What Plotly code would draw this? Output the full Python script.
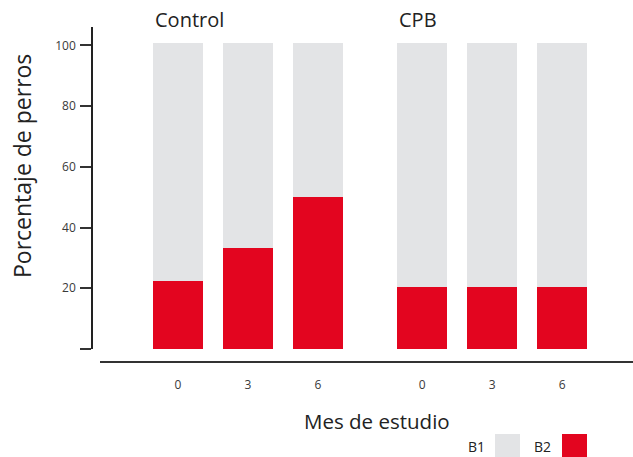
import plotly.graph_objects as go

# ---- data ----
groups = ["Control", "CPB"]
months = ["0", "3", "6"]
b2_control = [22.5, 33.4, 50.1]
b1_control = [78.2, 67.3, 50.6]
b2_cpb = [20.4, 20.4, 20.4]
b1_cpb = [80.3, 80.3, 80.3]
y_ticks = [0, 20, 40, 60, 80, 100]

RED = "#E3051F"
GRAY = "#E3E4E6"
FONT = "Open Sans"

W, H = 633, 457
L, R, T, B = 92, 0, 27, 95
PW, PH = W - L - R, H - T - B


def px_x(p):
    return (p - L) / PW


def px_y(p):
    return (H - B - p) / PH


group_gap = 3.49
b1_all = [b1_control, b1_cpb]
b2_all = [b2_control, b2_cpb]

fig = go.Figure()
xpos, ticktext = [], []
for g, name in enumerate(groups):
    xs = [i + g * group_gap for i in range(len(months))]
    xpos += xs
    ticktext += months
    fig.add_bar(x=xs, y=b2_all[g], marker_color=RED, width=0.714,
                name="B2", showlegend=False, marker_line_width=0, hoverinfo="skip")
    fig.add_bar(x=xs, y=b1_all[g], marker_color=GRAY, width=0.714,
                name="B1", showlegend=False, marker_line_width=0, hoverinfo="skip")
    fig.add_annotation(x=xs[0] - 0.357, y=px_y(20), xref="x", yref="paper",
                       text=name, showarrow=False, xanchor="left", yanchor="middle",
                       font=dict(family=FONT, size=20, color="#222"))

fig.update_layout(
    template="none",
    barmode="stack",
    width=W, height=H,
    margin=dict(l=L, r=R, t=T, b=B, pad=0),
    paper_bgcolor="white", plot_bgcolor="white",
    font=dict(family=FONT, color="#3a3a3a"),
    xaxis=dict(
        domain=[px_x(100), 1], range=[-1.114, 6.5],
        anchor="free", position=0,
        tickvals=xpos, ticktext=ticktext, ticks="",
        showline=True, linecolor="#333", linewidth=1.5,
        showgrid=False, zeroline=False,
        tickfont=dict(family=FONT, size=12, color="#3a3a3a"),
        ticklabelstandoff=12,
    ),
    yaxis=dict(
        domain=[px_y(349), 1], range=[0, 106.07],
        anchor="free", position=0,
        tickvals=y_ticks, ticktext=["" if v == 0 else str(v) for v in y_ticks],
        ticks="outside", ticklen=11, tickcolor="#333", tickwidth=1.5,
        showline=True, linecolor="#222", linewidth=1.5,
        showgrid=False, zeroline=False,
        tickfont=dict(family=FONT, size=12, color="#3a3a3a"),
        ticklabelstandoff=2,
    ),
)

# axis titles
fig.add_annotation(x=px_x(376.5), y=px_y(421), xref="paper", yref="paper",
                   text="Mes de estudio", showarrow=False,
                   xanchor="center", yanchor="middle",
                   font=dict(family=FONT, size=20.5, color="#222"))
fig.add_annotation(x=px_x(22), y=px_y(166), xref="paper", yref="paper",
                   text="Porcentaje de perros", showarrow=False, textangle=-90,
                   xanchor="center", yanchor="middle",
                   font=dict(family=FONT, size=23, color="#222"))

# legend (text left of swatch)
for label, color, tx, sx0 in [("B1", GRAY, 476, 495), ("B2", RED, 542.5, 562)]:
    fig.add_annotation(x=px_x(tx), y=px_y(446), xref="paper", yref="paper",
                       text=label, showarrow=False, xanchor="center", yanchor="middle",
                       font=dict(family=FONT, size=14, color="#222"))
    fig.add_shape(type="rect", xref="paper", yref="paper",
                  x0=px_x(sx0), x1=px_x(sx0 + 25), y0=px_y(458), y1=px_y(434),
                  fillcolor=color, line=dict(width=0))

fig.write_html("out.html",
               config={"displayModeBar": False},
               post_script="document.body.style.margin='0';document.body.style.padding='0';")
